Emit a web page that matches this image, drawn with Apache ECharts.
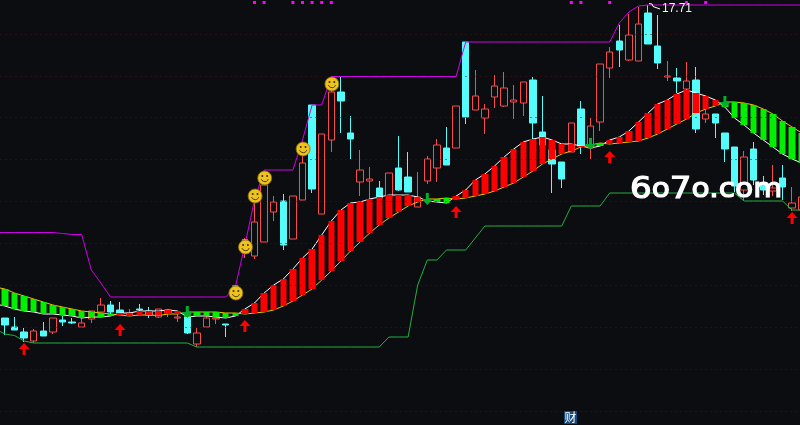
<!DOCTYPE html>
<html><head><meta charset="utf-8">
<style>html,body{margin:0;padding:0;background:#0c0d11;overflow:hidden}#c{width:800px;height:425px}</style>
<script src="https://cdn.jsdelivr.net/npm/echarts@6/dist/echarts.min.js"></script>
</head><body><div id="c"></div>
<script>
const priceOpen = [11.40,11.45,11.27,11.17,10.99,11.19,11.17,11.41,11.37,11.27,11.43,11.57,11.71,11.61,11.51,11.63,11.59,11.47,11.55,11.45,11.47,10.93,11.27,11.43,11.33,11.87,12.75,12.69,12.97,13.57,13.79,13.03,13.81,15.71,13.53,15.01,15.97,15.15,14.17,14.19,14.05,13.89,14.45,14.27,13.67,14.19,14.45,14.85,14.85,16.97,15.61,15.45,15.87,15.69,15.77,15.75,16.21,15.17,14.81,14.57,14.77,15.63,14.85,15.37,16.45,16.99,16.61,16.59,17.55,16.89,16.27,16.25,16.03,16.21,15.43,15.53,15.15,14.87,14.01,14.83,14.15,13.99,14.25,13.65,13.61];
const priceClose = [11.45,11.31,11.21,11.05,11.19,11.09,11.45,11.37,11.35,11.35,11.59,11.71,11.57,11.55,11.55,11.61,11.51,11.63,11.61,11.47,11.15,11.15,11.45,11.45,11.31,12.07,12.99,13.37,14.11,13.77,12.91,13.89,14.55,14.03,15.13,15.97,15.79,15.03,14.41,14.23,13.85,14.35,14.01,13.97,13.87,14.63,14.91,14.51,15.69,15.47,15.89,15.63,16.09,16.05,15.81,16.17,15.35,14.91,14.53,14.23,15.35,14.89,15.29,16.53,16.77,16.81,17.11,17.33,16.93,16.55,16.29,16.19,16.19,15.23,15.53,15.35,14.83,14.09,14.67,14.21,14.01,14.05,14.07,13.75,13.87];
const priceLow = [11.35,11.11,11.21,10.97,10.95,11.09,11.13,11.29,11.33,11.27,11.35,11.57,11.49,11.51,11.51,11.59,11.45,11.45,11.47,11.37,11.13,10.87,11.27,11.33,11.07,11.81,12.65,12.63,12.97,13.39,12.81,13.03,13.81,13.95,13.53,14.77,15.15,14.63,13.89,13.81,13.83,13.89,13.99,13.97,13.67,14.13,14.17,14.51,14.85,15.33,15.61,15.13,15.65,15.67,15.43,15.49,15.01,14.91,13.95,14.05,14.77,14.73,14.63,15.19,16.25,16.47,16.59,16.59,16.93,16.43,16.19,15.95,16.03,15.15,15.35,15.05,14.57,13.97,13.81,14.11,13.91,13.89,13.81,13.59,13.61];
const priceHigh = [11.50,11.45,11.47,11.25,11.23,11.37,11.45,11.49,11.45,11.45,11.59,11.85,11.79,11.77,11.63,11.73,11.67,11.63,11.61,11.59,11.55,11.25,11.49,11.45,11.33,12.09,13.05,13.75,14.25,13.89,13.93,13.89,14.81,15.71,15.13,16.25,16.27,15.49,14.81,14.47,14.19,14.35,15.09,14.77,14.37,14.69,15.03,15.27,15.69,16.97,16.41,15.73,16.31,16.37,16.11,16.17,16.27,15.89,14.81,14.57,15.35,15.79,15.45,16.53,16.87,17.31,17.53,17.67,17.71,17.51,16.59,16.45,16.57,16.47,15.81,15.53,15.15,14.87,14.79,14.97,14.29,14.51,14.51,14.07,14.01];
const fastAvg = [11.73,11.69,11.63,11.59,11.57,11.53,11.53,11.51,11.49,11.45,11.47,11.47,11.49,11.55,11.55,11.59,11.59,11.59,11.61,11.59,11.47,11.49,11.49,11.47,11.45,11.49,11.63,11.75,11.95,12.11,12.23,12.43,12.65,12.83,13.11,13.39,13.61,13.75,13.77,13.83,13.87,13.91,13.91,13.91,13.87,13.79,13.77,13.75,13.89,14.01,14.21,14.33,14.49,14.67,14.83,14.97,15.03,15.07,15.01,14.93,14.93,14.89,14.85,14.89,15.01,15.07,15.19,15.37,15.55,15.73,15.81,15.93,16.01,15.95,15.89,15.81,15.67,15.45,15.31,15.15,15.01,14.87,14.73,14.63,14.55];
const slowAvg = [12.07,12.03,11.95,11.89,11.83,11.77,11.71,11.67,11.63,11.59,11.57,11.55,11.53,11.51,11.49,11.51,11.51,11.50,11.53,11.53,11.57,11.57,11.57,11.57,11.55,11.55,11.53,11.55,11.57,11.61,11.69,11.79,11.91,12.03,12.21,12.39,12.59,12.79,12.97,13.15,13.31,13.45,13.57,13.69,13.77,13.83,13.83,13.85,13.83,13.85,13.89,13.93,13.99,14.07,14.15,14.27,14.39,14.53,14.63,14.73,14.79,14.87,14.91,14.95,14.93,14.95,14.97,14.99,15.05,15.13,15.23,15.33,15.43,15.55,15.63,15.69,15.77,15.77,15.75,15.71,15.63,15.53,15.39,15.27,15.15];
const upperBand = [13.16,13.16,13.16,13.16,13.16,13.16,13.16,13.14,13.12,13.12,12.41,12.15,11.87,11.87,11.87,11.87,11.87,11.87,11.87,11.87,11.87,11.87,11.87,11.87,11.87,12.07,12.91,13.81,14.41,14.41,14.41,14.41,15.01,15.71,15.71,16.28,16.28,16.28,16.28,16.28,16.28,16.28,16.28,16.28,16.28,16.28,16.28,16.28,16.28,16.97,16.97,16.97,16.97,16.97,16.97,16.97,16.97,16.97,16.97,16.97,16.97,16.97,16.97,16.97,16.97,17.35,17.57,17.69,17.71,17.71,17.71,17.71,17.71,17.71,17.71,17.71,17.71,17.71,17.71,17.71,17.71,17.71,17.71,17.71,17.71];
const lowerBand = [11.23,11.13,11.10,10.99,10.95,10.95,10.95,10.95,10.95,10.95,10.95,10.95,10.95,10.95,10.95,10.95,10.95,10.95,10.95,10.95,10.95,10.87,10.87,10.87,10.87,10.87,10.87,10.87,10.87,10.87,10.87,10.87,10.87,10.87,10.87,10.87,10.87,10.87,10.87,10.87,10.87,11.07,11.07,11.07,12.11,12.61,12.61,12.81,12.81,12.81,13.05,13.29,13.29,13.29,13.29,13.29,13.29,13.29,13.29,13.29,13.69,13.69,13.69,13.69,13.95,13.95,13.95,13.95,13.95,13.95,13.95,13.95,13.95,13.95,13.95,13.95,13.95,13.95,13.79,13.79,13.79,13.79,13.79,13.61,13.61];
const gridLevels = [17.13,16.29,15.46,14.63,13.79,12.95,12.11,11.27,10.43,9.59];
const buyIndex = [3,13,26,48,64,83];
const buyLevel = [10.83,11.21,11.29,13.57,14.67,13.45];
const sellIndex = [20,45,62,76];
const sellLevel = [11.57,13.83,14.93,15.77];
const smileIndex = [25,26,27,28,32,35];
const smileLevel = [11.95,12.87,13.89,14.25,14.83,16.13];
const flagIndex = [27,28,31,32,33,34,35,60,61,64,72,74];
const flagLevel = 17.76;
const capIndex = [25,26];
const capLevel = [12.09,13.01];
const categories = priceOpen.map((_, i) => String(i));
const highLabel = '17.71';

const BG = '#0c0d11';
const chart = echarts.init(document.getElementById('c'), null, {renderer: 'canvas'});
const plainLine = (name, data, color, z) => ({type: 'line', name, data, z, symbol: 'none', silent: true, lineStyle: {color, width: 1}, itemStyle: {color}});

chart.setOption({
  animation: false,
  backgroundColor: BG,
  grid: {left: -9.5, width: 816, top: 0, bottom: 0, containLabel: false, outerBoundsMode: 'none'},
  xAxis: {type: 'category', data: categories, show: false, boundaryGap: true},
  yAxis: {type: 'value', min: 9.31, max: 17.81, show: false, splitLine: {show: false}},
  series: [
    {type: 'line', name: 'grid', data: [], z: 1, silent: true, markLine: {
      silent: true, symbol: 'none', animation: false, label: {show: false},
      lineStyle: {color: '#521010', width: 1, type: [1, 4]},
      data: gridLevels.map(v => ({yAxis: v}))
    }},
    {type: 'candlestick', name: 'K', z: 2, barWidth: 7,
      data: priceOpen.map((o, i) => [o, priceClose[i], priceLow[i], priceHigh[i]]),
      itemStyle: {color: BG, color0: '#54fcfc', borderColor: '#f84c4c', borderColor0: '#54fcfc', borderWidth: 1}},
    plainLine('fast', fastAvg, '#ffffff', 3),
    plainLine('slow', slowAvg, '#e8c800', 3),
    {type: 'candlestick', name: 'cloud', z: 4, barWidth: 7,
      data: slowAvg.map((s, i) => [s, fastAvg[i], Math.min(s, fastAvg[i]), Math.max(s, fastAvg[i])]),
      itemStyle: {color: '#ff0000', color0: '#00f000', borderColor: '#ff0000', borderColor0: '#00f000', borderWidth: 0}},
    plainLine('upper', upperBand, '#d000e8', 5),
    plainLine('lower', lowerBand, '#22b040', 5),
    {type: 'scatter', name: 'flags', z: 5, symbol: 'rect', symbolSize: 3, silent: true,
      data: flagIndex.map(i => [i, flagLevel]), itemStyle: {color: '#ff00ff', opacity: 1}},
    {type: 'scatter', name: 'caps', z: 5, symbol: 'rect', symbolSize: [6, 1], silent: true,
      data: capIndex.map((i, k) => [i, capLevel[k]]), itemStyle: {color: '#ffffff', opacity: 1}},
    {type: 'scatter', name: 'buy', z: 6, silent: true, symbolSize: [11, 12],
      symbol: 'path://M5.5 0 L11 6 L7 6 L7 12 L4 12 L4 6 L0 6 Z',
      data: buyIndex.map((i, k) => [i, buyLevel[k]]), itemStyle: {color: '#ff0000', opacity: 1}},
    {type: 'scatter', name: 'sell', z: 6, silent: true, symbolSize: [11, 12],
      symbol: 'path://M4 0 L7 0 L7 6 L11 6 L5.5 12 L0 6 L4 6 Z',
      data: sellIndex.map((i, k) => [i, sellLevel[k]]), itemStyle: {color: '#00b028', opacity: 1}},
    {type: 'custom', name: 'smile', z: 7, silent: true,
      data: smileIndex.map((i, k) => [i, smileLevel[k]]),
      renderItem: (p, api) => {
        const c = api.coord([api.value(0), api.value(1)]);
        const x = c[0] + 0.6, y = c[1];
        return {type: 'group', children: [
          {type: 'circle', shape: {cx: x, cy: y, r: 7}, style: {fill: '#eec41c', stroke: '#8a6c10', lineWidth: 0.8}},
          {type: 'circle', shape: {cx: x - 2.4, cy: y - 2, r: 1}, style: {fill: '#3a2c00'}},
          {type: 'circle', shape: {cx: x + 2.4, cy: y - 2, r: 1}, style: {fill: '#3a2c00'}},
          {type: 'arc', shape: {cx: x, cy: y - 0.2, r: 3.8, startAngle: 0.35, endAngle: Math.PI - 0.35},
            style: {stroke: '#4a3800', fill: 'none', lineWidth: 1}}
        ]};
      }, encode: {x: 0, y: 1}}
  ],
  graphic: [
    {type: 'polyline', z: 20, silent: true, shape: {points: [[649, 3.5], [652, 4], [653, 6.5], [660, 9]]},
      style: {stroke: '#ffffff', fill: 'none', lineWidth: 1}},
    {type: 'text', z: 20, silent: true, left: 662, top: 3,
      style: {text: highLabel, fill: '#f0f0f0', font: '12px "Liberation Sans"'}},
    {type: 'text', z: 21, silent: true, x: 630, y: 175, scaleX: 1.1,
      style: {text: '{d|6}{l|o}{d|7}{l|o.com}', fill: '#ffffff',
        rich: {
          d: {font: '31px "DejaVu Sans"', fill: '#ffffff', lineHeight: 30, stroke: '#ffffff', lineWidth: 1.2},
          l: {font: '27px "DejaVu Sans"', fill: '#ffffff', lineHeight: 30, stroke: '#ffffff', lineWidth: 1.2}
        }}},
    {type: 'rect', z: 20, silent: true, shape: {x: 564, y: 411, width: 13, height: 13}, style: {fill: '#104a80'}},
    {type: 'text', z: 21, silent: true, left: 564.5, top: 411,
      style: {text: '财', fill: '#ffffff', font: '12px "Noto Sans CJK SC"'}}
  ]
});
</script></body></html>
